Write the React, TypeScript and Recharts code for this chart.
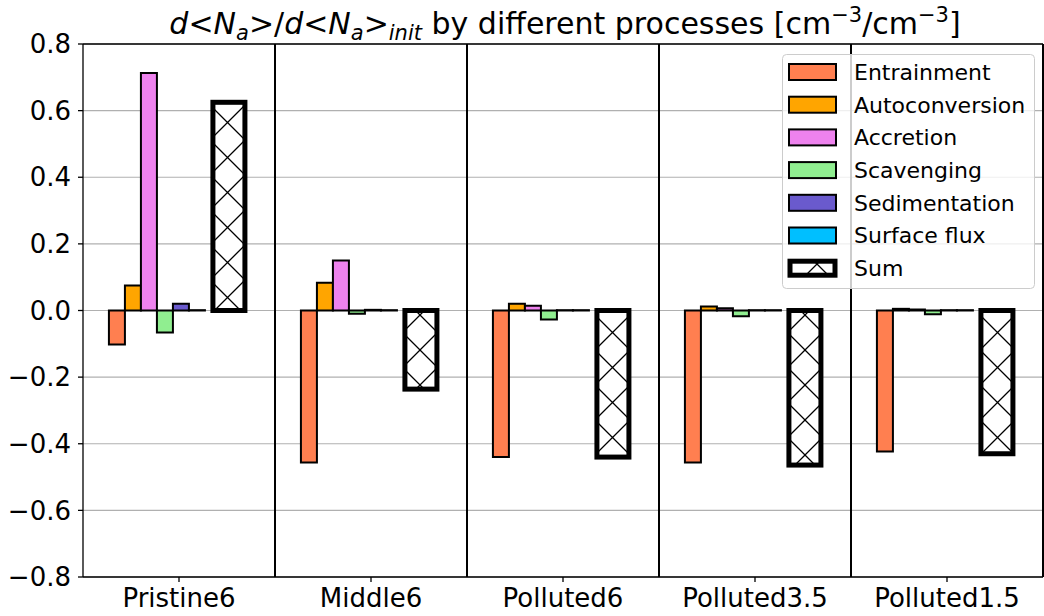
import React from 'react';
import { BarChart, Bar, XAxis, YAxis, CartesianGrid, Legend, ReferenceLine } from 'recharts';

const categories = ['Pristine6', 'Middle6', 'Polluted6', 'Polluted3.5', 'Polluted1.5'];
const entrainment = [-0.102, -0.456, -0.44, -0.456, -0.423];
const autoconversion = [0.075, 0.083, 0.02, 0.012, 0.005];
const accretion = [0.713, 0.15, 0.014, 0.007, 0.003];
const scavenging = [-0.066, -0.01, -0.027, -0.017, -0.011];
const sedimentation = [0.02, 0.002, 0.001, 0.001, 0.001];
const surfaceFlux = [0.001, 0.001, 0.001, 0.001, 0.001];
const sumTotal = [0.625, -0.236, -0.44, -0.464, -0.43];
const yTicks = [-0.8, -0.6, -0.4, -0.2, 0, 0.2, 0.4, 0.6, 0.8];

const processes = [
    { key: 'entrainment', name: 'Entrainment', color: '#ff7f50' },
    { key: 'autoconversion', name: 'Autoconversion', color: '#ffa500' },
    { key: 'accretion', name: 'Accretion', color: '#ee82ee' },
    { key: 'scavenging', name: 'Scavenging', color: '#90ee90' },
    { key: 'sedimentation', name: 'Sedimentation', color: '#6a5acd' },
    { key: 'surfaceFlux', name: 'Surface flux', color: '#00bfff' },
];

const data = categories.map((name, i) => ({
    name,
    entrainment: entrainment[i],
    autoconversion: autoconversion[i],
    accretion: accretion[i],
    scavenging: scavenging[i],
    sedimentation: sedimentation[i],
    surfaceFlux: surfaceFlux[i],
    sum: sumTotal[i],
}));

const FONT = '"DejaVu Sans", sans-serif';

const fmt = (v: number) => v.toFixed(1).replace('-', '\u2212');

// Sum bar is wider and shifted a bit right of its slot
const SumShape = (props: any) => {
    const { x, y, width, height } = props;
    if (x == null || y == null) return null;
    const top = Math.min(y, y + height);
    const h = Math.abs(height);
    return (
        <rect x={x + width * 0.5} y={top} width={width * 2} height={h}
            fill="url(#xhatch)" stroke="#000" strokeWidth={5} />
    );
};

const LegendBox = () => {
    const rowH = 32.7;
    return (
        <svg width={254} height={236} style={{ display: 'block' }}>
            <rect x={0.5} y={0.5} width={252} height={234} rx={4} fill="#fff" fillOpacity={0.8} stroke="#cccccc" />
            {processes.map((p, i) => (
                <g key={p.key}>
                    <rect x={7} y={18 + i * rowH - 8} width={47} height={16} fill={p.color} stroke="#000" strokeWidth={2} />
                    <text x={72} y={18 + i * rowH} dy="0.36em" fontSize={22} fontFamily={FONT} fill="#000">{p.name}</text>
                </g>
            ))}
            <rect x={8} y={18 + 6 * rowH - 7} width={45} height={14} fill="url(#xhatch)" stroke="#000" strokeWidth={5} />
            <text x={72} y={18 + 6 * rowH} dy="0.36em" fontSize={22} fontFamily={FONT} fill="#000">Sum</text>
        </svg>
    );
};

const Title = () => (
    <svg width={1044} height={44} style={{ position: 'absolute', left: 0, top: 0 }}>
        <text x={565} y={34} textAnchor="middle" fontSize={30} fontFamily={FONT} fill="#000">
            <tspan fontStyle="italic">d</tspan>
            <tspan>&lt;</tspan>
            <tspan fontStyle="italic">N</tspan>
            <tspan fontStyle="italic" fontSize={21} dy={6}>a</tspan>
            <tspan dy={-6}>&gt;/</tspan>
            <tspan fontStyle="italic">d</tspan>
            <tspan>&lt;</tspan>
            <tspan fontStyle="italic">N</tspan>
            <tspan fontStyle="italic" fontSize={21} dy={6}>a</tspan>
            <tspan dy={-6}>&gt;</tspan>
            <tspan fontStyle="italic" fontSize={21} dy={6}>init</tspan>
            <tspan dy={-6}> by different processes [cm</tspan>
            <tspan fontSize={21} dy={-12}>{'\u22123'}</tspan>
            <tspan dy={12}>/cm</tspan>
            <tspan fontSize={21} dy={-12}>{'\u22123'}</tspan>
            <tspan dy={12}>]</tspan>
        </text>
    </svg>
);

const App: React.FC = () => {
    return (
        <div style={{ position: 'absolute', left: 0, top: 0, width: 1044, height: 616, background: '#fff' }}>
            <BarChart
                width={1044}
                height={616}
                data={data}
                margin={{ top: 44, right: 1, left: 0, bottom: 0 }}
                barCategoryGap="13.5%"
                barGap={0}
            >
                <defs>
                    <pattern id="xhatch" patternUnits="userSpaceOnUse" width={35} height={35}>
                        <rect width={35} height={35} fill="#fff" />
                        <path d="M0,0L35,35M35,0L0,35" stroke="#000" strokeWidth={1.3} />
                    </pattern>
                </defs>
                <CartesianGrid vertical={false} stroke="#b0b0b0" strokeWidth={1.1} />
                <CartesianGrid
                    horizontal={false}
                    stroke="#000"
                    strokeWidth={2}
                    verticalCoordinatesGenerator={({ offset }: any) =>
                        [1, 2, 3, 4, 5].map((i) => offset.left + (offset.width * i) / categories.length)
                    }
                />
                <XAxis
                    dataKey="name"
                    interval={0}
                    height={39}
                    tickSize={5}
                    tickMargin={7}
                    axisLine={{ stroke: '#000', strokeWidth: 1.3 }}
                    tickLine={{ stroke: '#000', strokeWidth: 1.3 }}
                    tick={{ fill: '#000', fontSize: 26, fontFamily: FONT }}
                />
                <YAxis
                    domain={[-0.8, 0.8]}
                    ticks={yTicks}
                    tickFormatter={fmt}
                    width={83}
                    tickSize={5}
                    tickMargin={7}
                    axisLine={{ stroke: '#000', strokeWidth: 1.3 }}
                    tickLine={{ stroke: '#000', strokeWidth: 1.3 }}
                    tick={{ fill: '#000', fontSize: 26, fontFamily: FONT }}
                />
                <ReferenceLine y={0.8} stroke="#000" strokeWidth={1.3} />
                {processes.map((p) => (
                    <Bar key={p.key} dataKey={p.key} name={p.name} fill={p.color}
                        stroke="#000" strokeWidth={2} isAnimationActive={false} />
                ))}
                <Bar dataKey="sum" name="Sum" shape={SumShape} isAnimationActive={false} />
                <Bar dataKey="padA" legendType="none" fill="none" isAnimationActive={false} />
                <Bar dataKey="padB" legendType="none" fill="none" isAnimationActive={false} />
                <Legend
                    layout="vertical"
                    align="center"
                    verticalAlign="middle"
                    content={() => <LegendBox />}
                    wrapperStyle={{ position: 'absolute', left: 782, top: 54, width: 254, height: 236 }}
                />
            </BarChart>
            <Title />
        </div>
    );
};

export default App;
